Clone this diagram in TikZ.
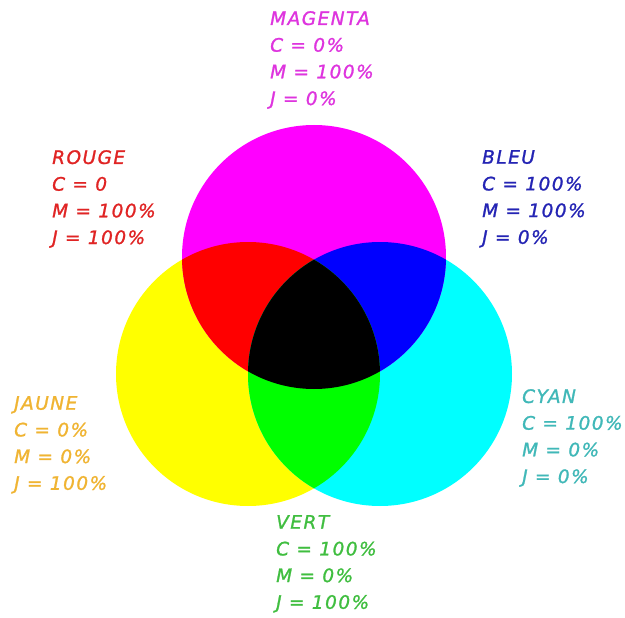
\documentclass[tikz,border=0pt]{standalone}
\usepackage{fontspec}
\setmainfont{DejaVu Sans}
\newfontfamily\etiq[LetterSpace=8,FakeBold=1.2]{DejaVu Sans Oblique}
\definecolor{cmag}{RGB}{255,0,255}
\definecolor{cjaune}{RGB}{255,255,0}
\definecolor{ccyan}{RGB}{0,255,255}
\definecolor{crouge}{RGB}{255,0,0}
\definecolor{cvert}{RGB}{0,255,0}
\definecolor{cbleu}{RGB}{0,0,255}
\definecolor{txtmag}{RGB}{222,52,222}
\definecolor{txtrouge}{RGB}{224,36,36}
\definecolor{txtbleu}{RGB}{36,36,180}
\definecolor{txtjaune}{RGB}{240,180,50}
\definecolor{txtcyan}{RGB}{64,184,184}
\definecolor{txtvert}{RGB}{64,190,64}
\tikzset{etiqueta/.style={anchor=north west, inner sep=0pt, align=left,
  font=\etiq\fontsize{18.5}{26.7}\selectfont}}
\begin{document}
\begin{tikzpicture}[x=1pt,y=-1pt]
  \useasboundingbox[fill=white] (0,0) rectangle (625,618);
  \def\radio{132pt}
  \coordinate (M) at (314,257);
  \coordinate (Y) at (248,374);
  \coordinate (C) at (380,374);
  % circulos
  \fill[cjaune] (Y) circle (\radio);
  \fill[ccyan] (C) circle (\radio);
  \fill[cmag] (M) circle (\radio);
  % mezclas
  \begin{scope}
    \clip (M) circle (\radio);
    \fill[crouge] (Y) circle (\radio);
    \fill[cbleu] (C) circle (\radio);
  \end{scope}
  \begin{scope}
    \clip (Y) circle (\radio);
    \fill[cvert] (C) circle (\radio);
    \clip (C) circle (\radio);
    \fill[black] (M) circle (\radio);
  \end{scope}
  % etiquetas
  \node[etiqueta, text=txtmag] (magenta) at (270,11) {MAGENTA\\C = 0\%\\M = 100\%\\J = 0\%};
  \node[etiqueta, text=txtrouge] (rouge) at (52,150) {ROUGE\\C = 0\\M = 100\%\\J = 100\%};
  \node[etiqueta, text=txtbleu] (bleu) at (482,150) {BLEU\\C = 100\%\\M = 100\%\\J = 0\%};
  \node[etiqueta, text=txtjaune] (jaune) at (14,396) {JAUNE\\C = 0\%\\M = 0\%\\J = 100\%};
  \node[etiqueta, text=txtcyan] (cyan) at (522,389) {CYAN\\C = 100\%\\M = 0\%\\J = 0\%};
  \node[etiqueta, text=txtvert] (vert) at (276,515) {VERT\\C = 100\%\\M = 0\%\\J = 100\%};
\end{tikzpicture}
\end{document}
